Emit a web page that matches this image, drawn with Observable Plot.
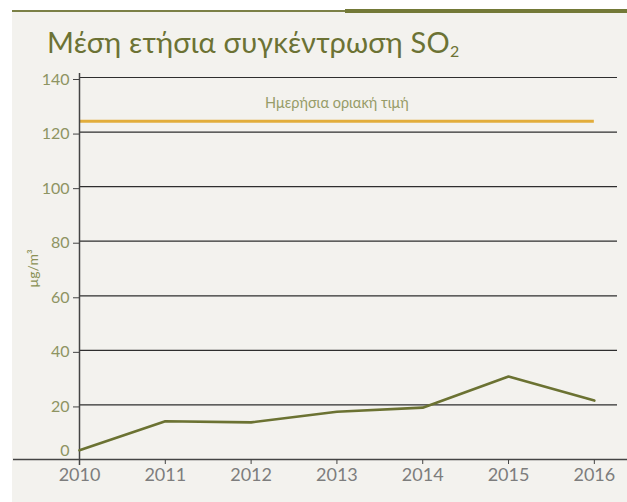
<!DOCTYPE html>
<html>
<head>
<meta charset="utf-8">
<script src="https://cdn.jsdelivr.net/npm/d3@7"></script>
<script src="https://cdn.jsdelivr.net/npm/@observablehq/plot@0.6"></script>
<style>
  html, body { margin: 0; padding: 0; background: #ffffff; }
  #wrap { position: relative; width: 627px; height: 502px; overflow: hidden; font-family: Lato, "Open Sans", sans-serif; }
  #bg { position: absolute; left: 12px; top: 11px; right: 0; bottom: 0; background: #f3f2ee; }
  #rule-thin { position: absolute; left: 12px; top: 10px; width: 615px; height: 2px; background: #7b8046; }
  #rule-thick { position: absolute; left: 345px; top: 9px; width: 282px; height: 4px; background: #737937; }
  #title { position: absolute; left: 47px; top: 24px; margin: 0; font-size: 29px; font-weight: 400; color: #6c7234; white-space: nowrap; letter-spacing: 0.2px; }
  #title sub { font-size: 0.55em; vertical-align: -0.25em; }
  #chart { position: absolute; left: 0; top: 62px; }
</style>
</head>
<body>
<div id="wrap">
  <div id="bg"></div>
  <div id="rule-thin"></div>
  <div id="rule-thick"></div>
  <h1 id="title">Μέση ετήσια συγκέντρωση SO<sub>2</sub></h1>
  <div id="chart"></div>
</div>
<script>
const years = [2010, 2011, 2012, 2013, 2014, 2015, 2016];
const so2 = [3.4, 14.0, 13.6, 17.5, 19.0, 30.4, 21.6];
const limitValue = 124;
const limitLabel = "Ημερήσια οριακή τιμή";
const yTicks = [0, 20, 40, 60, 80, 100, 120, 140];
const yUnit = "µg/m³";

const data = years.map((y, i) => ({year: y, value: so2[i]}));

const olive = "#6b7232";
const axisGrey = "#444444";

const chart = Plot.plot({
  width: 627,
  height: 440,
  marginLeft: 79,
  marginRight: 10,
  marginTop: 15,
  marginBottom: 43,
  style: {background: "transparent", fontFamily: "Lato, 'Open Sans', sans-serif"},
  x: {domain: [2010, 2016.27]},
  y: {domain: [0, 140]},
  marks: [
    Plot.ruleY(yTicks.filter(d => d > 0), {stroke: "#2e2e2e", strokeWidth: 1.2}),
    Plot.ruleY([limitValue], {x1: years[0], x2: years[years.length - 1], stroke: "#e2ad3b", strokeWidth: 3}),
    Plot.text([limitLabel], {x: years[3], y: limitValue, dy: -13, lineAnchor: "bottom", textAnchor: "middle", fontSize: 14.5, fill: "#979c68"}),
    Plot.ruleY([0], {stroke: axisGrey, strokeWidth: 1.5, insetLeft: -66, insetRight: -10}),
    Plot.ruleX([years[0]], {stroke: axisGrey, strokeWidth: 1.5, insetTop: -4, insetBottom: -6}),
    Plot.axisY(yTicks.filter(d => d > 0), {tickSize: 6, tickPadding: 4, stroke: axisGrey, fill: "#8e9462", fontSize: 16, dy: 2, label: null, tickFormat: d => String(d)}),
    Plot.axisY([0], {tickSize: 0, tickPadding: 10, fill: "#8e9462", fontSize: 16, dy: -9, label: null, tickFormat: d => String(d)}),
    Plot.axisX(years, {tickSize: 5, tickPadding: 4, stroke: axisGrey, fill: "#7d7d7d", fontSize: 18, label: null, tickFormat: d => String(d)}),
    Plot.text([yUnit], {frameAnchor: "left", textAnchor: "middle", lineAnchor: "middle", rotate: -90, dx: -46, fontSize: 14, fill: "#8a9055"}),
    Plot.line(data, {x: "year", y: "value", stroke: olive, strokeWidth: 2.6})
  ]
});
document.getElementById("chart").appendChild(chart);
</script>
</body>
</html>
